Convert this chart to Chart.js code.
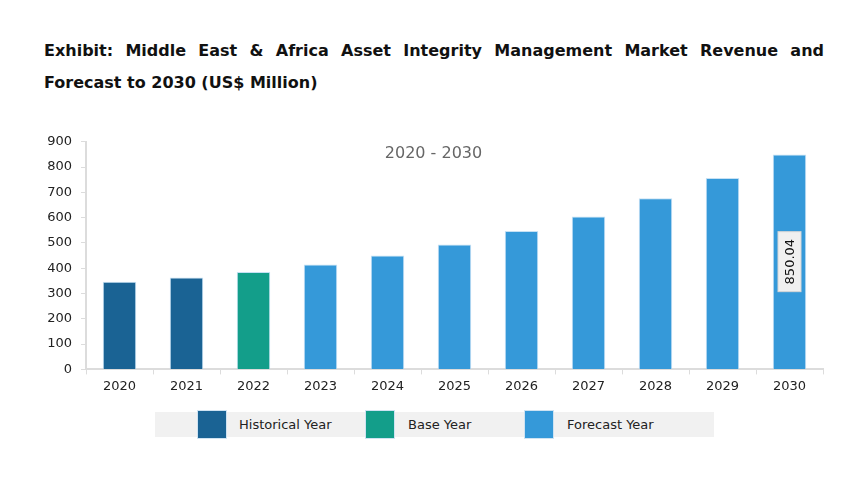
<!DOCTYPE html>
<html>
<head>
  <title>MEA Asset Integrity Management Market</title>
  <script src="https://cdn.jsdelivr.net/npm/chart.js@4/dist/chart.umd.min.js"></script>
  <style>
    body { margin: 0; background: #fff; width: 863px; height: 486px; position: relative; overflow: hidden; font-family: "DejaVu Sans", Verdana, sans-serif; }
    .title { position: absolute; left: 44px; width: 780px; font-weight: bold; font-size: 16px; line-height: 20px; color: #111; white-space: nowrap; }
    #title1 { top: 41px; text-align: justify; text-align-last: justify; white-space: normal; }
    #title2 { top: 73px; }
    #chartBox { position: absolute; left: 30px; top: 125px; width: 800px; height: 273px; }
    #legend { position: absolute; left: 155px; top: 412px; width: 559px; height: 25px; background: #f1f1f1; }
    .sw { position: absolute; top: -2px; width: 30px; height: 29px; box-sizing: border-box; border: 1px solid #cfe3f2; }
    .lbl { position: absolute; top: 5px; white-space: nowrap; font-size: 13px; color: #222; }
  </style>
</head>
<body>
  <div id="title1" class="title">Exhibit: Middle East &amp; Africa Asset Integrity Management Market Revenue and</div>
  <div id="title2" class="title">Forecast to 2030 (US$ Million)</div>
  <div id="chartBox"><canvas id="myChart"></canvas></div>
  <div id="legend"></div>
<script>
    // Chart data
    const years = ['2020', '2021', '2022', '2023', '2024', '2025', '2026', '2027', '2028', '2029', '2030'];
    const revenue = [347, 363, 385, 415, 450, 494, 547, 605, 677, 757, 850.04];
    const yearType = ['Historical Year', 'Historical Year', 'Base Year', 'Forecast Year', 'Forecast Year', 'Forecast Year',
      'Forecast Year', 'Forecast Year', 'Forecast Year', 'Forecast Year', 'Forecast Year'];
    const legendNames = ['Historical Year', 'Base Year', 'Forecast Year'];
    const legendColors = ['#1a6394', '#139e8a', '#3599d9'];

    const barColors = yearType.map(t => legendColors[legendNames.indexOf(t)]);

    // Legend built in HTML
    const legendEl = document.getElementById('legend');
    const swatchX = [42, 210, 369];
    const labelX = [84, 253, 412];
    legendNames.forEach((name, i) => {
      const sw = document.createElement('div');
      sw.className = 'sw';
      sw.style.left = swatchX[i] + 'px';
      sw.style.background = legendColors[i];
      legendEl.appendChild(sw);
      const lbl = document.createElement('span');
      lbl.className = 'lbl';
      lbl.style.left = labelX[i] + 'px';
      lbl.textContent = name;
      legendEl.appendChild(lbl);
    });

    // Range caption inside the plot area
    const rangeText = {
      id: 'rangeText',
      afterDraw(chart) {
        const ctx = chart.ctx;
        const area = chart.chartArea;
        ctx.save();
        ctx.font = '16px "DejaVu Sans", Verdana, sans-serif';
        ctx.fillStyle = '#666';
        ctx.textAlign = 'center';
        ctx.textBaseline = 'middle';
        ctx.fillText('2020 - 2030', (area.left + area.right) / 2 - 21, area.top + 12);
        ctx.restore();
      }
    };

    // Rotated value label on the last bar
    const lastLabel = {
      id: 'lastLabel',
      afterDatasetsDraw(chart) {
        const ctx = chart.ctx;
        const meta = chart.getDatasetMeta(0);
        const i = revenue.length - 1;
        const bar = meta.data[i];
        const cx = bar.x;
        const cy = (bar.y + bar.base) / 2;
        const txt = revenue[i].toFixed(2);
        ctx.save();
        ctx.translate(cx, cy);
        ctx.rotate(-Math.PI / 2);
        ctx.fillStyle = '#f0f0f0';
        ctx.fillRect(-30, -11.5, 60, 23);
        ctx.strokeStyle = '#d6d6d6';
        ctx.lineWidth = 1;
        ctx.strokeRect(-30, -11.5, 60, 23);
        ctx.font = '13px "DejaVu Sans", Verdana, sans-serif';
        ctx.fillStyle = '#111';
        ctx.textAlign = 'center';
        ctx.textBaseline = 'middle';
        ctx.fillText(txt, 0, 1);
        ctx.restore();
      }
    };

    new Chart(document.getElementById('myChart'), {
      type: 'bar',
      data: {
        labels: years,
        datasets: [{
          data: revenue,
          backgroundColor: barColors,
          borderColor: '#c6e1f4',
          borderWidth: 1,
          categoryPercentage: 1,
          barPercentage: 0.5
        }]
      },
      options: {
        responsive: true,
        maintainAspectRatio: false,
        animation: false,
        layout: { padding: { top: 2, right: 7, bottom: 0, left: 0 } },
        plugins: {
          legend: { display: false },
          tooltip: { enabled: false }
        },
        scales: {
          x: {
            grid: { display: true, drawOnChartArea: false, drawTicks: true, offset: true, tickLength: 5, color: '#dcdcdc' },
            border: { color: '#dcdcdc', width: 2 },
            ticks: { color: '#222', font: { family: '"DejaVu Sans", Verdana, sans-serif', size: 13 }, padding: 4 }
          },
          y: {
            min: 0,
            max: 900,
            afterFit(scale) { scale.width = 56; },
            grid: { display: true, drawOnChartArea: false, drawTicks: true, tickLength: 5, color: '#dcdcdc' },
            border: { color: '#dcdcdc', width: 2 },
            ticks: { stepSize: 100, color: '#222', font: { family: '"DejaVu Sans", Verdana, sans-serif', size: 13 }, padding: 9 }
          }
        }
      },
      plugins: [rangeText, lastLabel]
    });
</script>
</body>
</html>
